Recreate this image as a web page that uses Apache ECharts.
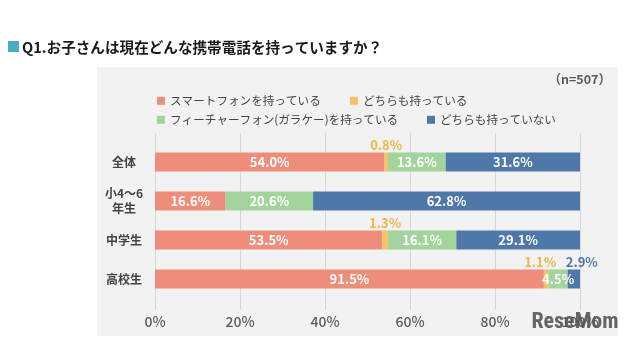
<!DOCTYPE html>
<html>
<head>
<meta charset="utf-8">
<script src="https://cdn.jsdelivr.net/npm/echarts@6/dist/echarts.min.js"></script>
<style>
html,body{margin:0;padding:0;background:#fff;}
#c{width:640px;height:341px;}
</style>
</head>
<body>
<div id="c"></div>
<script>
const categories = ['全体', '小4～6\n年生', '中学生', '高校生'];
const seriesNames = ['スマートフォンを持っている', 'どちらも持っている', 'フィーチャーフォン(ガラケー)を持っている', 'どちらも持っていない'];
const smartphone = [54.0, 16.6, 53.5, 91.5];
const both = [0.8, 0, 1.3, 1.1];
const featurephone = [13.6, 20.6, 16.1, 4.5];
const neither = [31.6, 62.8, 29.1, 2.9];
const xTicks = [0, 20, 40, 60, 80, 100];

const colors = ['#ee8d79', '#f3c264', '#a2d49c', '#4e78a8'];
const FONT = '"Noto Sans CJK JP", "Noto Sans", sans-serif';

const chart = echarts.init(document.getElementById('c'));

function insideLabel() {
  return {
    show: true, position: 'inside', color: '#fff', fontSize: 13, fontWeight: 'bold', fontFamily: FONT,
    formatter: p => p.value ? p.value.toFixed(1) + '%' : ''
  };
}

const bothData = both.map((v, i) => {
  const item = { value: v };
  if (!v) { item.label = { show: false }; }
  if (i === 3) { item.label = { offset: [-6, 0] }; }
  return item;
});
const neitherData = neither.map((v, i) => {
  const item = { value: v };
  if (i === 3) {
    item.label = { position: 'top', distance: 1, color: '#4e78a8', offset: [8, 0] };
  }
  return item;
});

const legendPos = [[157, 95], [350, 95], [157, 114], [427, 114]];

chart.setOption({
  backgroundColor: '#ffffff',
  animation: false,
  color: colors,
  graphic: [
    { type: 'rect', shape: { x: 97, y: 67, width: 521, height: 269 }, style: { fill: '#f2f2f2' }, z: -10 },
    { type: 'rect', shape: { x: 8, y: 41, width: 11, height: 11 }, style: { fill: '#4aabc5' } },
    { type: 'text', x: 22, y: 47, style: { text: 'Q1.お子さんは現在どんな携帯電話を持っていますか？', font: 'bold 14.6px ' + FONT, fill: '#1a1a1a', textVerticalAlign: 'middle' } },
    { type: 'text', x: 611, y: 79, style: { text: '（n=507）', font: 'bold 12.5px ' + FONT, fill: '#595959', textAlign: 'right', textVerticalAlign: 'middle' } },
    { type: 'text', x: 575, y: 322, z: 100, style: { text: 'ReseMom', font: 'bold 22px "Roboto Condensed", Roboto, sans-serif', fill: 'rgba(85,85,85,0.9)', textAlign: 'center', textVerticalAlign: 'middle' } }
  ],
  legend: seriesNames.map((n, i) => ({
    data: [n], left: legendPos[i][0], top: legendPos[i][1], padding: 0,
    icon: 'rect', itemWidth: 8, itemHeight: 8,
    textStyle: { fontSize: 11.6, color: '#444', fontFamily: FONT }
  })),
  grid: [
    { left: 155, width: 425, top: 142.5, height: 156 },
    { left: 155, width: 425, top: 133, height: 177 }
  ],
  xAxis: [
    { gridIndex: 0, type: 'value', min: 0, max: 100, show: false },
    {
      gridIndex: 1, type: 'value', min: xTicks[0], max: xTicks[xTicks.length - 1], interval: 20,
      axisLine: { show: false }, axisTick: { show: false },
      splitLine: { show: true, lineStyle: { color: '#d6d6d6', width: 1 } },
      axisLabel: { formatter: '{value}%', fontSize: 14, color: '#5a5a5a', fontWeight: 500, fontFamily: FONT, margin: 5 }
    }
  ],
  yAxis: [
    {
      gridIndex: 0, type: 'category', data: categories, inverse: true,
      axisLine: { show: false }, axisTick: { show: false },
      axisLabel: { align: 'center', margin: 31, fontSize: 12, fontWeight: 'bold', color: '#444', lineHeight: 15, fontFamily: FONT }
    },
    { gridIndex: 1, type: 'value', show: false }
  ],
  series: [
    { name: seriesNames[0], type: 'bar', stack: 's', barWidth: 19, data: smartphone, label: insideLabel() },
    {
      name: seriesNames[1], type: 'bar', stack: 's', barWidth: 19, data: bothData,
      label: { show: true, position: 'top', distance: 1, color: '#f0b64a', fontSize: 13, fontWeight: 'bold', fontFamily: FONT, formatter: p => p.value.toFixed(1) + '%' }
    },
    { name: seriesNames[2], type: 'bar', stack: 's', barWidth: 19, data: featurephone, label: insideLabel() },
    { name: seriesNames[3], type: 'bar', stack: 's', barWidth: 19, data: neitherData, label: insideLabel() }
  ]
});
</script>
</body>
</html>
